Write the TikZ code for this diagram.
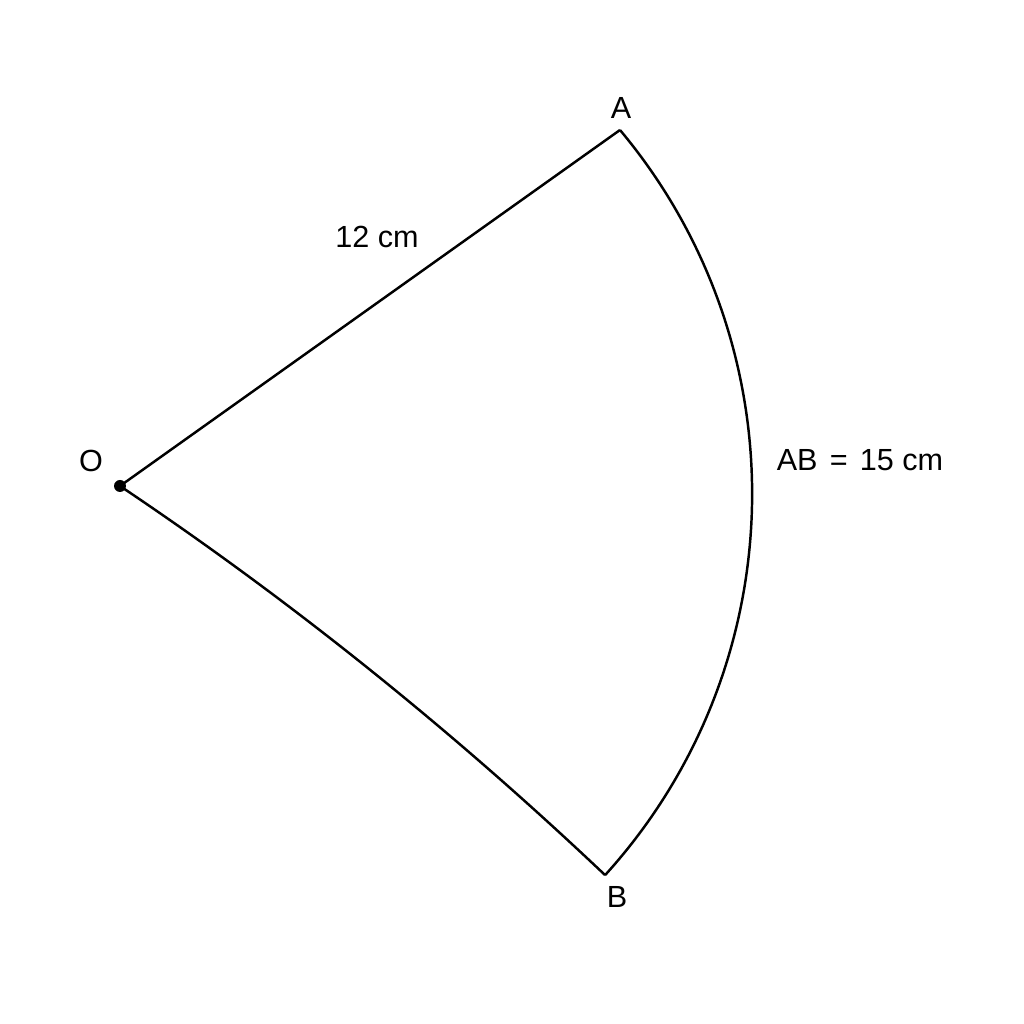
\documentclass[tikz,border=0pt]{standalone}
\usepackage{fontspec}
\setmainfont{Liberation Sans}
\usetikzlibrary{positioning}
\usetikzlibrary{calc}

\begin{document}
\begin{tikzpicture}[
        edge/.style={line width=0.7pt, black},
        lbl/.style={font=\fontsize{8.7}{10}\selectfont, inner sep=0pt},
        dot/.style={circle, fill=black, inner sep=0pt, minimum size=0.12cm},
    ]
        \useasboundingbox (0,0) rectangle (10.24,10.24);

        \coordinate (O) at (1.20,5.38);
        \coordinate (A) at (6.20,8.94);
        \coordinate (B) at (6.05,1.49);
        \coordinate (bend1) at (2.93,4.22);
        \coordinate (bend2) at (4.54,2.92);

        \node[dot] (centre) at (O) {};
        \node[lbl] (labelO) at (0.91,5.63) {O};
        \node[lbl] (labelA) at (6.21,9.16) {A};
        \node[lbl] (labelB) at (6.17,1.27) {B};
        \node[lbl] (radius) at (3.77,7.87) {12 cm};
        \node[lbl] (arclength) at (8.60,5.64) {AB\hspace{0.4em}=\hspace{0.4em}15 cm};

        \draw[edge] (O) -- (A);
        \draw[edge] (O) .. controls (bend1) and (bend2) .. (B);
        \draw[edge] (A) arc[start angle=39.9, end angle=-42.2, radius=5.675];
    \end{tikzpicture}
\end{document}
